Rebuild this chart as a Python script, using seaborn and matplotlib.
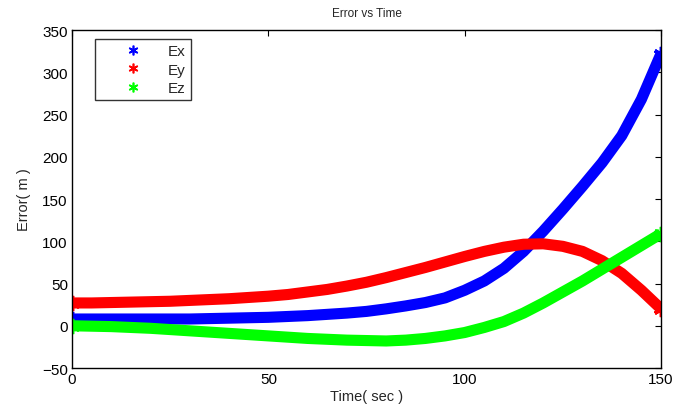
import matplotlib
matplotlib.use("Agg")
import matplotlib.pyplot as plt
import seaborn as sns
import pandas as pd
from matplotlib.lines import Line2D

time = [0, 5, 10, 15, 20, 25, 30, 35, 40, 45, 50, 55, 60, 65, 70, 75,
        80, 85, 90, 95, 100, 105, 110, 115, 120, 125, 130, 135, 140, 145, 150]
ex = [8, 8, 8, 8, 8, 8, 8, 8.5, 9, 9.5, 10, 11, 12, 13.5, 15, 17,
      20, 23.5, 27.5, 33, 42, 53, 68, 88, 112, 138, 165, 193, 225, 268, 322]
ey = [27, 27, 27.5, 28, 28.5, 29, 30, 31, 32, 33.5, 35, 37, 40, 43, 47, 51.5,
      57, 63, 69, 75.5, 82, 88, 93, 96.5, 97, 94, 88, 77, 62, 42, 20]
ez = [0, -0.5, -1, -2, -3, -4.5, -6, -7.5, -9, -10.5, -12, -13.5, -15, -16, -17, -17.5,
      -18, -17, -15, -12, -8, -2, 5, 15, 27, 40, 53, 67, 81, 95, 109]
series_names = ["Ex", "Ey", "Ez"]
colors = ["#0000ff", "#ff0000", "#00ff00"]

sns.set_style("white")
plt.rcParams["font.family"] = ["Liberation Sans", "DejaVu Sans"]

fig = plt.figure(figsize=(6.75, 4.06), dpi=100)
ax = fig.add_axes([0.1067, 0.0911, 0.8726, 0.8325])

asterisk = (6, 2, 0)
for name, vals, c in zip(series_names, [ex, ey, ez], colors):
    df = pd.DataFrame({"t": time, "v": vals})
    sns.lineplot(data=df, x="t", y="v", ax=ax, color=c, linewidth=8,
                 marker=asterisk, markersize=11, markeredgewidth=2.5,
                 markeredgecolor=c, markevery=[0, len(time) - 1],
                 solid_capstyle="butt", solid_joinstyle="round", legend=False)

ax.set_xlim(0, 150)
ax.set_ylim(-50, 350)
ax.set_xticks([0, 50, 100, 150])
ax.set_yticks(list(range(-50, 351, 50)))
ax.tick_params(direction="in", top=True, right=True, length=4, width=0.8,
               labelsize=11, colors="black", pad=3)
for s in ax.spines.values():
    s.set_color("black")
    s.set_linewidth(1.0)
    s.set_visible(True)

ax.set_title("Error vs Time", fontsize=8.5, pad=10)
ax.set_xlabel("Time( sec )", fontsize=10.5, labelpad=2)
ax.set_ylabel("Error( m )", fontsize=10.5, labelpad=8)

handles = [Line2D([0], [0], linestyle="none", marker=asterisk, markersize=7,
                  markeredgewidth=1.2, color=c) for c in colors]
leg = ax.legend(handles, series_names, loc="upper left",
                bbox_to_anchor=(0.039, 0.973), fontsize=11, frameon=True,
                fancybox=False, edgecolor="black", handlelength=4.3,
                handletextpad=0.15, borderpad=0.33, labelspacing=0.3,
                borderaxespad=0)
leg.get_frame().set_linewidth(1.0)

fig.savefig("out.png", dpi=100)
